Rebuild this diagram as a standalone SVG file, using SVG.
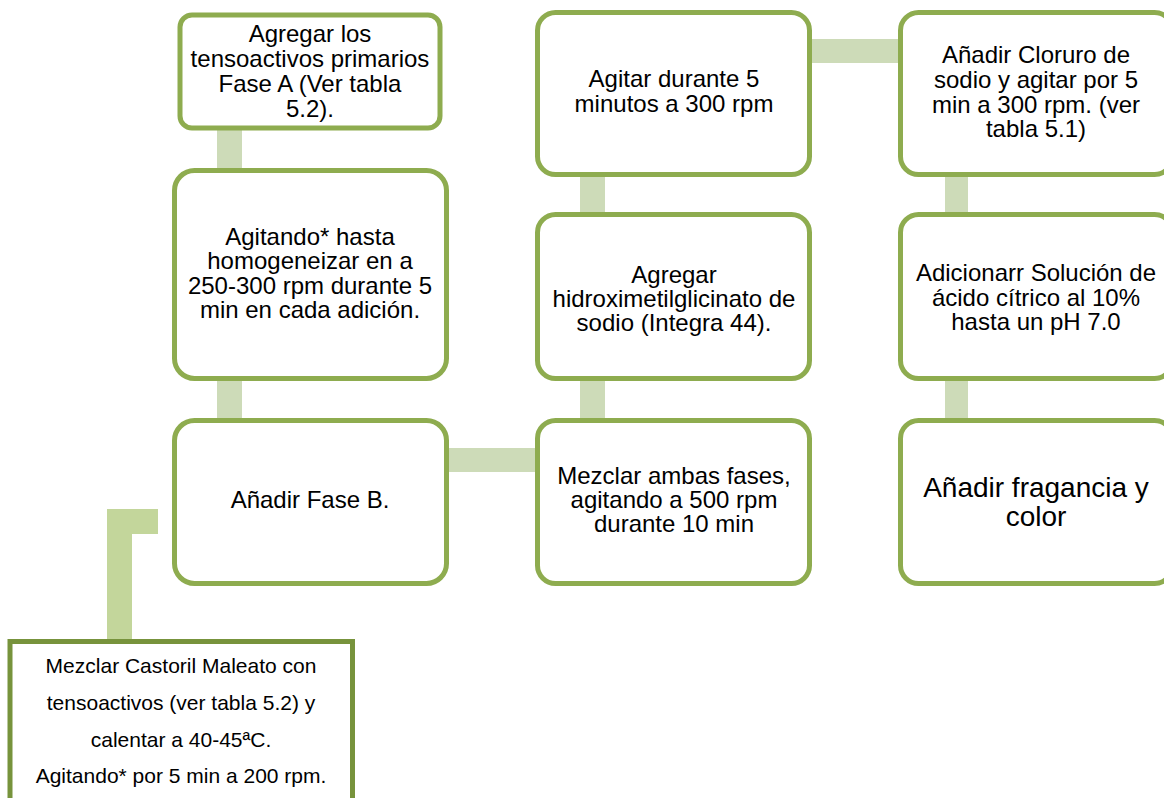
<svg xmlns="http://www.w3.org/2000/svg" width="1164" height="798" viewBox="0 0 1164 798">
  <style>
    .box { fill: #ffffff; stroke: #8eac4f; stroke-width: 5; }
    .sq { fill: #ffffff; stroke: #77933c; stroke-width: 5; }
    .link { fill: #cddbb8; }
    .link2 { fill: #c3d69b; }
    text { font-family: "Liberation Sans", Arial, sans-serif; fill: #000000; text-anchor: middle; }
    .t24 { font-size: 24px; }
    .t21 { font-size: 21px; }
    .t28 { font-size: 28px; }
  </style>
  <rect width="1164" height="798" fill="#ffffff"/>

  <!-- connectors -->
  <g id="connectors">
    <rect class="link" x="217" y="128" width="25" height="44"/>
    <rect class="link" x="217" y="378" width="25" height="44"/>
    <rect class="link" x="446" y="448" width="92" height="24"/>
    <rect class="link" x="580" y="174" width="25" height="42"/>
    <rect class="link" x="580" y="378" width="25" height="44"/>
    <rect class="link" x="809" y="39" width="92" height="24"/>
    <rect class="link" x="945" y="174" width="23" height="42"/>
    <rect class="link" x="945" y="378" width="23" height="44"/>
    <path class="link2" d="M107,509 H158 V534 H132 V641 H107 Z"/>
  </g>

  <g id="n-fase-a">
    <rect class="box" x="180" y="15" width="260" height="113" rx="12"/>
    <text class="t24" x="310" y="42">Agregar los</text>
    <text class="t24" x="310" y="67">tensoactivos primarios</text>
    <text class="t24" x="310" y="92">Fase A (Ver tabla</text>
    <text class="t24" x="310" y="117">5.2).</text>
  </g>

  <g id="n-agitando">
    <rect class="box" x="174.5" y="170.5" width="272" height="208" rx="20"/>
    <text class="t24" x="310" y="245">Agitando* hasta</text>
    <text class="t24" x="310" y="269">homogeneizar en a</text>
    <text class="t24" x="310" y="294">250-300 rpm durante 5</text>
    <text class="t24" x="310" y="318">min en cada adición.</text>
  </g>

  <g id="n-fase-b">
    <rect class="box" x="174.5" y="420.5" width="272" height="163" rx="20"/>
    <text class="t24" x="310" y="508">Añadir Fase B.</text>
  </g>

  <g id="n-castoril">
    <rect class="sq" x="10" y="641.5" width="342.5" height="170"/>
    <text class="t21" x="181" y="673">Mezclar Castoril Maleato con</text>
    <text class="t21" x="181" y="710">tensoactivos (ver tabla 5.2) y</text>
    <text class="t21" x="181" y="747">calentar a 40-45ªC.</text>
    <text class="t21" x="181" y="783">Agitando* por 5 min a 200 rpm.</text>
  </g>

  <g id="n-agitar">
    <rect class="box" x="537.5" y="12.5" width="272" height="162" rx="18"/>
    <text class="t24" x="674" y="87">Agitar durante 5</text>
    <text class="t24" x="674" y="112">minutos a 300 rpm</text>
  </g>

  <g id="n-integra">
    <rect class="box" x="537.5" y="214.5" width="272" height="164" rx="18"/>
    <text class="t24" x="674" y="283">Agregar</text>
    <text class="t24" x="674" y="307">hidroximetilglicinato de</text>
    <text class="t24" x="674" y="331">sodio (Integra 44).</text>
  </g>

  <g id="n-mezclar">
    <rect class="box" x="537.5" y="420.5" width="272" height="163" rx="18"/>
    <text class="t24" x="674" y="484">Mezclar ambas fases,</text>
    <text class="t24" x="674" y="508">agitando a 500 rpm</text>
    <text class="t24" x="674" y="532">durante 10 min</text>
  </g>

  <g id="n-cloruro">
    <rect class="box" x="900.5" y="12.5" width="272" height="162" rx="18"/>
    <text class="t24" x="1036" y="63">Añadir Cloruro de</text>
    <text class="t24" x="1036" y="88">sodio y agitar por 5</text>
    <text class="t24" x="1036" y="113">min a 300 rpm. (ver</text>
    <text class="t24" x="1036" y="137">tabla 5.1)</text>
  </g>

  <g id="n-citrico">
    <rect class="box" x="900.5" y="214.5" width="272" height="164" rx="18"/>
    <text class="t24" x="1036" y="281">Adicionarr Solución de</text>
    <text class="t24" x="1036" y="306">ácido cítrico al 10%</text>
    <text class="t24" x="1036" y="330">hasta un pH 7.0</text>
  </g>

  <g id="n-fragancia">
    <rect class="box" x="900.5" y="420.5" width="272" height="163" rx="18"/>
    <text class="t28" x="1036" y="497">Añadir fragancia y</text>
    <text class="t28" x="1036" y="526">color</text>
  </g>
</svg>
